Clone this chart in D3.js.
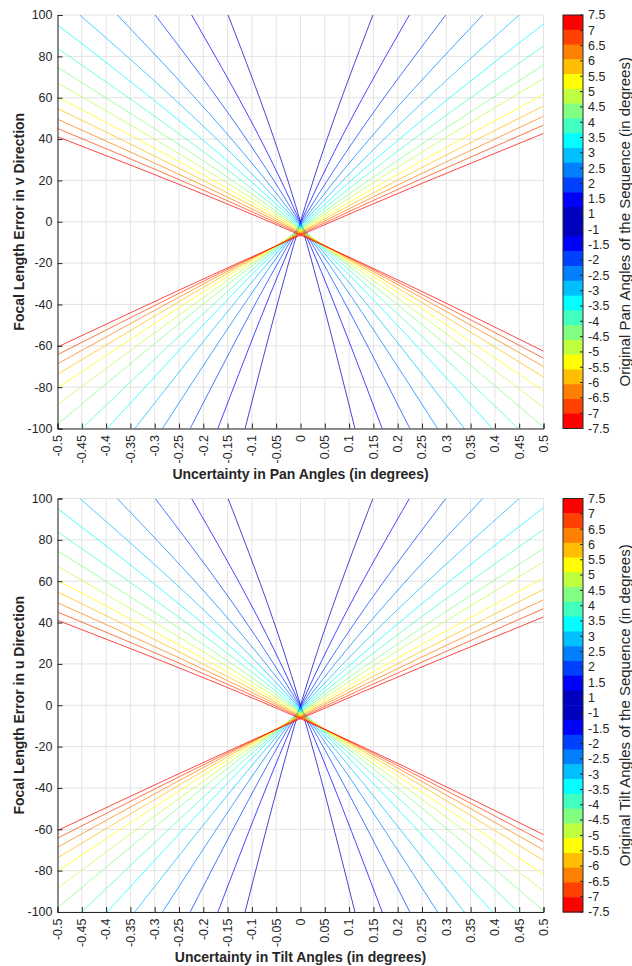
<!DOCTYPE html>
<html lang="en">
  <head>
    <meta charset="utf-8">
    <title>Focal length error vs angle uncertainty</title>
    <style>
      body { margin: 0; background: #fff; font-family: "Liberation Sans", Arial, Helvetica, sans-serif; }
      svg text { fill: #262626; }
    </style>
  </head>
  <body>
    <svg width="632" height="966"></svg>
    <script src="https://d3js.org/d3.v7.min.js"></script>
    <script>
      // |angle| of each line pair and its jet colour
      const lineAngles = [7.5, 7, 6.5, 6, 5.5, 5, 4.5, 4, 3.5, 3, 2.5, 2, 1.5, 1];
      const lineColors = ["#ff0000", "#ff4000", "#ff8000", "#ffbf00", "#ffff00", "#bfff40", "#80ff80",
                          "#40ffbf", "#00ffff", "#00bfff", "#0080ff", "#0040ff", "#0000ff", "#0000bf"];

      // colorbar: 28 bins top to bottom, 28 tick labels
      const colorbarColors = lineColors.concat(lineColors.slice().reverse());
      const colorbarTicks = ["7.5", "7", "6.5", "6", "5.5", "5", "4.5", "4", "3.5", "3", "2.5", "2", "1.5", "1",
                             "-1", "-1.5", "-2", "-2.5", "-3", "-3.5", "-4", "-4.5", "-5", "-5.5", "-6", "-6.5", "-7", "-7.5"];

      const xTicks = [-0.5, -0.45, -0.4, -0.35, -0.3, -0.25, -0.2, -0.15, -0.1, -0.05, 0,
                      0.05, 0.1, 0.15, 0.2, 0.25, 0.3, 0.35, 0.4, 0.45, 0.5];
      const yTicks = [-100, -80, -60, -40, -20, 0, 20, 40, 60, 80, 100];

      // pan panel: falling curves (one per angle in lineAngles order), [x, y] points
      const panFalling = [
        [[-0.5, 41.1], [0, -6.5], [0.5, -62.6]],
        [[-0.5, 45.1], [0, -6], [0.5, -66]],
        [[-0.5, 49.6], [0, -5.5], [0.5, -70]],
        [[-0.5, 54.8], [0, -5], [0.5, -75.1]],
        [[-0.5, 60.4], [0, -4.5], [0.5, -81.9]],
        [[-0.5, 67.2], [0, -4], [0.5, -89.7]],
        [[-0.5, 74.7], [0, -3.5], [0.5, -99.4]],
        [[-0.5, 83.9], [0, -3], [0.448, -100]],
        [[-0.5, 95.2], [0, -2.5], [0.395, -100]],
        [[-0.454, 100], [0, -2], [0.337, -100]],
        [[-0.377, 100], [0, -1.5], [0.282, -100]],
        [[-0.299, 100], [0, -1], [0.225, -100]],
        [[-0.224, 100], [0, -0.5], [0.168, -100]],
        [[-0.149, 100], [0, 0], [0.112, -100]]
      ];
      // pan panel: rising curves
      const panRising = [
        [[-0.5, -60.6], [0, -6.5], [0.5, 42.7]],
        [[-0.5, -64.3], [0, -6], [0.5, 46.7]],
        [[-0.5, -68.7], [0, -5.5], [0.5, 51]],
        [[-0.5, -73.8], [0, -5], [0.5, 56]],
        [[-0.5, -80.3], [0, -4.5], [0.5, 61.6]],
        [[-0.5, -88.4], [0, -4], [0.5, 69.3]],
        [[-0.5, -98], [0, -3.5], [0.5, 75.8]],
        [[-0.45, -100], [0, -3], [0.5, 85]],
        [[-0.398, -100], [0, -2.5], [0.5, 95.6]],
        [[-0.341, -100], [0, -2], [0.45, 100]],
        [[-0.284, -100], [0, -1.5], [0.375, 100]],
        [[-0.227, -100], [0, -1], [0.299, 100]],
        [[-0.17, -100], [0, -0.5], [0.224, 100]],
        [[-0.114, -100], [0, 0], [0.149, 100]]
      ];

      // tilt panel
      const tiltFalling = [
        [[-0.5, 41.1], [0, -6.5], [0.5, -62.6]],
        [[-0.5, 45.1], [0, -6], [0.5, -66]],
        [[-0.5, 49.6], [0, -5.5], [0.5, -70]],
        [[-0.5, 54.8], [0, -5], [0.5, -75.1]],
        [[-0.5, 60.4], [0, -4.5], [0.5, -81.9]],
        [[-0.5, 67.2], [0, -4], [0.5, -89.7]],
        [[-0.5, 74.7], [0, -3.5], [0.5, -99.4]],
        [[-0.5, 83.9], [0, -3], [0.448, -100]],
        [[-0.5, 95.2], [0, -2.5], [0.395, -100]],
        [[-0.454, 100], [0, -2], [0.337, -100]],
        [[-0.377, 100], [0, -1.5], [0.282, -100]],
        [[-0.299, 100], [0, -1], [0.225, -100]],
        [[-0.224, 100], [0, -0.5], [0.168, -100]],
        [[-0.149, 100], [0, 0], [0.112, -100]]
      ];
      const tiltRising = [
        [[-0.5, -60.6], [0, -6.5], [0.5, 42.7]],
        [[-0.5, -64.3], [0, -6], [0.5, 46.7]],
        [[-0.5, -68.7], [0, -5.5], [0.5, 51]],
        [[-0.5, -73.8], [0, -5], [0.5, 56]],
        [[-0.5, -80.3], [0, -4.5], [0.5, 61.6]],
        [[-0.5, -88.4], [0, -4], [0.5, 69.3]],
        [[-0.5, -98], [0, -3.5], [0.5, 75.8]],
        [[-0.45, -100], [0, -3], [0.5, 85]],
        [[-0.398, -100], [0, -2.5], [0.5, 95.6]],
        [[-0.341, -100], [0, -2], [0.45, 100]],
        [[-0.284, -100], [0, -1.5], [0.375, 100]],
        [[-0.227, -100], [0, -1], [0.299, 100]],
        [[-0.17, -100], [0, -0.5], [0.224, 100]],
        [[-0.114, -100], [0, 0], [0.149, 100]]
      ];

      const svg = d3.select("svg");
      const plotLeft = 57.5, plotRight = 543.5, plotHeight = 413.5;
      const cbLeft = 563, cbWidth = 20;

      const x = d3.scaleLinear().domain([-0.5, 0.5]).range([plotLeft, plotRight]);

      function drawPanel(top, falling, rising, yLabel, xLabel, cbLabel, id) {
        const y = d3.scaleLinear().domain([-100, 100]).range([top + plotHeight, top]);
        const bottom = top + plotHeight;
        const g = svg.append("g");

        // grid
        g.append("g").selectAll("line").data(xTicks).join("line")
          .attr("x1", d => x(d)).attr("x2", d => x(d))
          .attr("y1", top).attr("y2", bottom)
          .attr("stroke", "#e3e3e3").attr("stroke-width", 1);
        g.append("g").selectAll("line").data(yTicks).join("line")
          .attr("x1", plotLeft).attr("x2", plotRight)
          .attr("y1", d => y(d)).attr("y2", d => y(d))
          .attr("stroke", "#e3e3e3").attr("stroke-width", 1);

        g.append("clipPath").attr("id", id)
          .append("rect").attr("x", plotLeft).attr("y", top)
          .attr("width", plotRight - plotLeft).attr("height", plotHeight);

        const line = d3.line().x(d => x(d[0])).y(d => y(d[1])).curve(d3.curveMonotoneX);
        const curves = g.append("g").attr("clip-path", `url(#${id})`)
          .attr("fill", "none").attr("stroke-opacity", 0.72);
        for (let i = lineAngles.length - 1; i >= 0; i--) {
          curves.append("path").attr("d", line(rising[i])).attr("stroke", lineColors[i]).attr("stroke-width", 1);
          curves.append("path").attr("d", line(falling[i])).attr("stroke", lineColors[i]).attr("stroke-width", 1);
        }

        // axes (ticks pointing inward, Matlab style)
        const yAxis = g.append("g").attr("transform", `translate(${plotLeft},0)`)
          .call(d3.axisRight(y).tickValues(yTicks).tickSize(5).tickFormat(""));
        yAxis.select(".domain").attr("stroke", "#262626");
        yAxis.selectAll(".tick line").attr("stroke", "#262626");
        g.append("g").selectAll("text").data(yTicks).join("text")
          .attr("x", plotLeft - 5).attr("y", d => y(d)).attr("dy", "0.35em")
          .attr("text-anchor", "end").attr("font-size", 12.5).text(d => d);

        const xAxis = g.append("g").attr("transform", `translate(0,${bottom})`)
          .call(d3.axisTop(x).tickValues(xTicks).tickSize(5).tickFormat(""));
        xAxis.select(".domain").attr("stroke", "#262626");
        xAxis.selectAll(".tick line").attr("stroke", "#262626");
        g.append("g").selectAll("text").data(xTicks).join("text")
          .attr("transform", d => `translate(${x(d)},${bottom + 6.5}) rotate(-90)`)
          .attr("dy", "0.35em").attr("text-anchor", "end").attr("font-size", 12.5)
          .text(d => String(d));

        g.append("text")
          .attr("transform", `translate(19,${top + plotHeight / 2}) rotate(-90)`)
          .attr("text-anchor", "middle").attr("dy", "0.35em")
          .attr("font-size", 14).attr("font-weight", "bold").text(yLabel);
        g.append("text")
          .attr("x", (plotLeft + plotRight) / 2).attr("y", bottom + 50)
          .attr("text-anchor", "middle")
          .attr("font-size", 14).attr("font-weight", "bold").text(xLabel);

        // colorbar
        const cb = d3.scaleBand().domain(d3.range(colorbarColors.length)).range([top, bottom]);
        g.append("g").selectAll("rect").data(colorbarColors).join("rect")
          .attr("x", cbLeft).attr("y", (d, i) => cb(i))
          .attr("width", cbWidth).attr("height", cb.bandwidth() + 0.5)
          .attr("fill", d => d);
        g.append("rect").attr("x", cbLeft).attr("y", top).attr("width", cbWidth).attr("height", plotHeight)
          .attr("fill", "none").attr("stroke", "#262626").attr("stroke-width", 1);
        const cbTick = d3.scalePoint().domain(colorbarTicks).range([top, bottom]);
        g.append("g").selectAll("line").data(colorbarTicks).join("line")
          .attr("x1", cbLeft + cbWidth - 3).attr("x2", cbLeft + cbWidth)
          .attr("y1", d => cbTick(d)).attr("y2", d => cbTick(d))
          .attr("stroke", "#262626");
        g.append("g").selectAll("text").data(colorbarTicks).join("text")
          .attr("x", cbLeft + cbWidth + 5).attr("y", d => cbTick(d)).attr("dy", "0.35em")
          .attr("font-size", 12.5).text(d => d);
        g.append("text")
          .attr("transform", `translate(625,${top + plotHeight / 2}) rotate(-90)`)
          .attr("text-anchor", "middle").attr("dy", "0.35em")
          .attr("font-size", 15).text(cbLabel);
      }

      drawPanel(15, panFalling, panRising, "Focal Length Error in v Direction",
        "Uncertainty in Pan Angles (in degrees)", "Original Pan Angles of the Sequence (in degrees)", "clipPan");
      drawPanel(498.5, tiltFalling, tiltRising, "Focal Length Error in u Direction",
        "Uncertainty in Tilt Angles (in degrees)", "Original Tilt Angles of the Sequence (in degrees)", "clipTilt");
    </script>
  </body>
</html>
